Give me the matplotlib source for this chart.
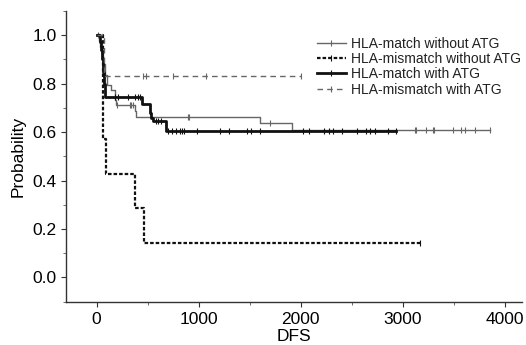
import numpy as np
import matplotlib
matplotlib.use("Agg")
import matplotlib.pyplot as plt
from matplotlib.lines import Line2D
from matplotlib.ticker import MultipleLocator, FormatStrFormatter

plt.rcParams['font.family'] = ['Liberation Sans', 'DejaVu Sans']

# ---- data ----
labels = ["HLA-match without ATG", "HLA-mismatch without ATG",
          "HLA-match with ATG", "HLA-mismatch with ATG"]

# HLA-match without ATG
t_match_noatg = [0, 20, 35, 50, 65, 78, 105, 137, 176, 193, 373, 390, 1605, 1915]
s_match_noatg = [1.0, 0.975, 0.95, 0.92, 0.88, 0.835, 0.794, 0.773, 0.732, 0.711, 0.687, 0.663, 0.638, 0.608]
end_match_noatg = 3860
c_match_noatg = [10, 203, 324, 340, 356, 895, 905, 1696, 3120, 3135, 3232, 3294, 3310,
                 3490, 3575, 3608, 3713, 3860]

# HLA-mismatch without ATG
t_mis_noatg = [0, 58, 62, 66, 95, 379, 464]
s_mis_noatg = [1.0, 0.857, 0.714, 0.571, 0.429, 0.286, 0.143]
end_mis_noatg = 3170
c_mis_noatg = [3170]

# HLA-match with ATG
t_match_atg = [0, 30, 45, 55, 65, 75, 85, 444, 520, 536, 552, 683]
s_match_atg = [1.0, 0.97, 0.94, 0.9, 0.85, 0.8, 0.743, 0.715, 0.68, 0.66, 0.647, 0.605]
end_match_atg = 2937
c_match_atg = [176, 209, 307, 373, 405, 421, 585, 601, 627, 699, 738, 781, 814, 840, 853,
               987, 1213, 1297, 1474, 1516, 1598, 2023, 2082, 2229, 2278, 2317, 2408,
               2556, 2644, 2676, 2725, 2856, 2937]

# HLA-mismatch with ATG
t_mis_atg = [0, 70]
s_mis_atg = [1.0, 0.833]
end_mis_atg = 2000
c_mis_atg = [454, 487, 748, 1069, 2000]

xticks = [0, 1000, 2000, 3000, 4000]
yticks = [0.0, 0.2, 0.4, 0.6, 0.8, 1.0]

# ---- styles ----
styles = [
    dict(color="#666666", lw=1.0, ls="-"),
    dict(color="#111111", lw=1.6, ls=(0, (1.6, 0.9))),
    dict(color="#111111", lw=2.0, ls="-"),
    dict(color="#666666", lw=1.0, ls=(0, (4, 3))),
]

series = [
    (t_match_noatg, s_match_noatg, end_match_noatg, c_match_noatg),
    (t_mis_noatg, s_mis_noatg, end_mis_noatg, c_mis_noatg),
    (t_match_atg, s_match_atg, end_match_atg, c_match_atg),
    (t_mis_atg, s_mis_atg, end_mis_atg, c_mis_atg),
]

fig = plt.figure(figsize=(5.26, 3.45), dpi=100)
ax = fig.add_axes([66/526, 1 - 301.7/345, (522-66)/526, (301.7-11)/345])

handles = []
for (t, s, end, c), st, lab in zip(series, styles, labels):
    x = list(t) + [end]
    y = list(s) + [s[-1]]
    ax.step(x, y, where="post", color=st["color"], lw=st["lw"], linestyle=st["ls"])
    tt = np.asarray(t)
    idx = np.searchsorted(tt, np.asarray(c), side="right") - 1
    cy = np.asarray(s)[idx]
    ax.plot(c, cy, linestyle="none", marker="|", markersize=4.5,
            markeredgewidth=0.8, color=st["color"])
    handles.append(Line2D([0], [0], color=st["color"], lw=st["lw"], linestyle=st["ls"],
                          marker="|", markersize=4.5, markeredgewidth=0.8, label=lab))

ax.set_xlim(-300, 4170)
ax.set_ylim(-0.1, 1.1)
ax.set_xticks(xticks)
ax.set_yticks(yticks)
ax.xaxis.set_minor_locator(MultipleLocator(500))
ax.yaxis.set_minor_locator(MultipleLocator(0.1))
ax.yaxis.set_major_formatter(FormatStrFormatter("%.1f"))

for sp in ["top", "right"]:
    ax.spines[sp].set_visible(False)
for sp in ["left", "bottom"]:
    ax.spines[sp].set_color("#333333")
    ax.spines[sp].set_linewidth(1.0)

ax.tick_params(axis="both", which="major", direction="out", length=3.6, width=0.8,
               color="#333333", labelsize=12.5, pad=3)
ax.tick_params(axis="both", which="minor", direction="out", length=2.2, width=0.6,
               color="#555555")
ax.tick_params(axis="x", which="major", pad=3.5)

ax.set_xlabel("DFS", fontsize=12.5, labelpad=1.5)
ax.set_ylabel("Probability", fontsize=12.5, labelpad=5)

leg = ax.legend(handles=handles, loc="upper left", bbox_to_anchor=(0.55, 0.912),
                frameon=False, fontsize=10, handlelength=2.1, handletextpad=0.35,
                labelspacing=0.1, borderpad=0, borderaxespad=0, numpoints=1)
for txt in leg.get_texts():
    txt.set_color("#222222")

fig.savefig("out.png", dpi=100)
